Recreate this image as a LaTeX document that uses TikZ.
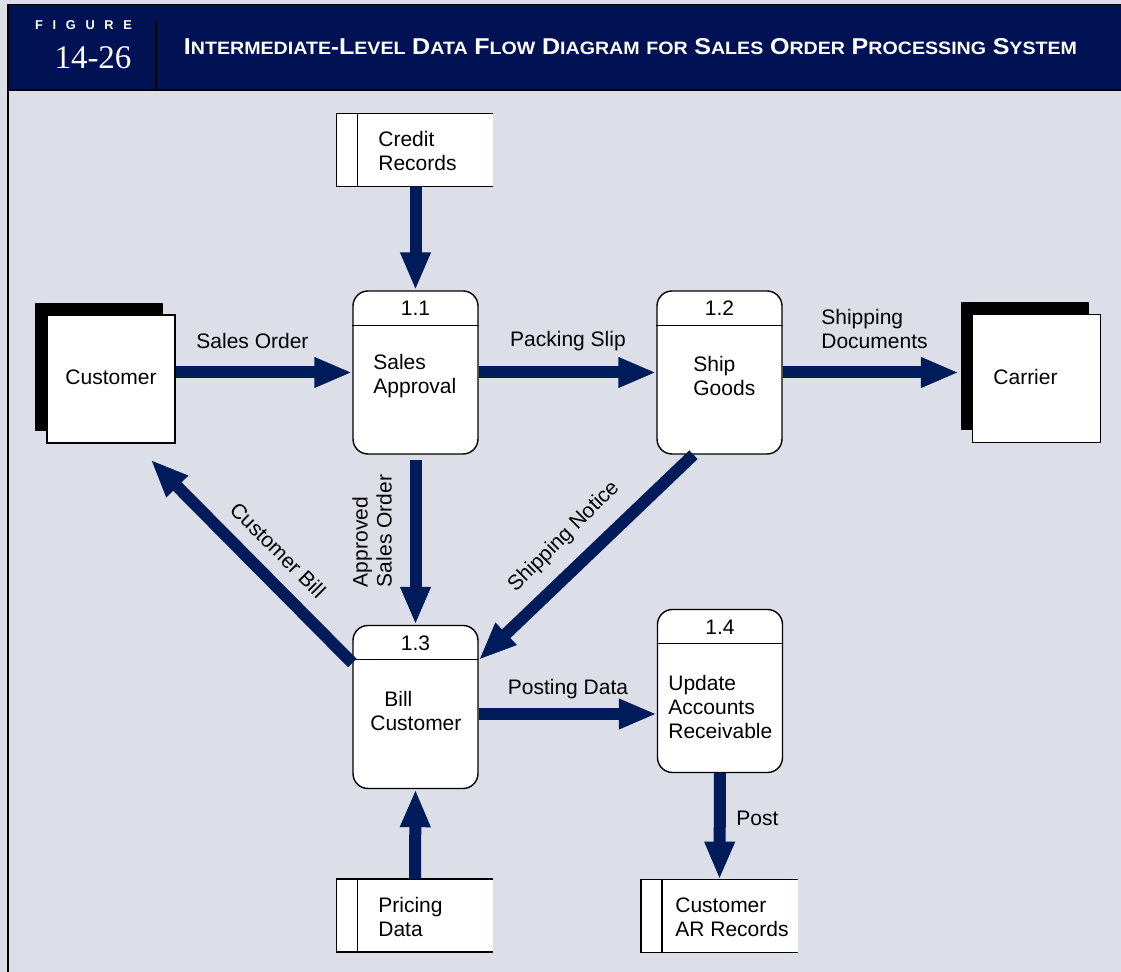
\documentclass[tikz,border=0pt]{standalone}
\usepackage{fontspec}
\setmainfont{Liberation Sans}
\newfontfamily\headserif{Liberation Serif}
\usetikzlibrary{arrows.meta,shadows}
\definecolor{navy}{RGB}{0,17,84}
\definecolor{flowblue}{RGB}{0,27,89}
\definecolor{paper}{RGB}{220,223,232}
% fake small caps for the title
\newcommand\capword[2]{{\fontsize{11}{11}\selectfont #1}{\fontsize{8.6}{11}\selectfont #2}}
\begin{document}
\begin{tikzpicture}[x=0.5pt,y=-0.5pt,font=\fontsize{10.5}{12}\selectfont,
	process/.style={draw,line width=0.7pt,fill=white,rounded corners=7.5pt,minimum width=62.5pt,minimum height=81.5pt,inner sep=0pt},
	entity/.style={draw,line width=0.6pt,fill=white,minimum width=64pt,minimum height=64pt,inner sep=0pt,
		general shadow={fill=black,shadow xshift=-6pt,shadow yshift=6pt}},
	store/.style={fill=white,minimum width=78pt,minimum height=36pt,inner sep=0pt},
	dataflow/.style={draw=flowblue,line width=6pt,-{Triangle[length=19pt,width=14pt]}},
	lbl/.style={inner sep=0pt,align=left}]
	\useasboundingbox (0,0) rectangle (1121,972);
	\fill[paper] (0,0) rectangle (1121,972);
	% header
	\fill[navy] (8,4) rectangle (1121,89);
	\draw[line width=0.8pt] (8,4.5) -- (1121,4.5);
	\draw[line width=1.3pt] (8,90) -- (1121,90);
	\draw[line width=1.3pt] (8,4) -- (8,972);
	\draw[line width=0.9pt] (156,21) -- (156,89);
	\node[text=white,inner sep=0pt,font=\bfseries\fontsize{6.4}{7}\selectfont] (figword) at (83.5,25.5)
		{\makebox[48.5pt]{F\hfill I\hfill G\hfill U\hfill R\hfill E}};
	\node[text=white,inner sep=0pt,font=\headserif\fontsize{16.5}{18}\selectfont] (fignum) at (93,58) {14-26};
	\node[text=white,inner sep=0pt] (title) at (630.5,47) {\resizebox{446.5pt}{8pt}{\bfseries
		\capword{I}{NTERMEDIATE}-\capword{L}{EVEL} \capword{D}{ATA} \capword{F}{LOW} \capword{D}{IAGRAM}
		\capword{}{FOR} \capword{S}{ALES} \capword{O}{RDER} \capword{P}{ROCESSING} \capword{S}{YSTEM}}};

	% external entities
	\node[entity] (cust) at (111,379) {\raisebox{1.5pt}{Customer}};
	\node[entity] (car) at (1036.5,378.5) {\raisebox{1.5pt}{Carrier}\kern11pt};

	% processes
	\node[process] (p11) at (415.5,372.5) {};
	\node[process] (p12) at (719.5,372.5) {};
	\node[process] (p13) at (415.5,707) {};
	\node[process] (p14) at (720,691) {};
	\foreach \p in {p11,p12,p13,p14}
		\draw[line width=0.7pt] ([yshift=-17.5pt]\p.north west) -- ([yshift=-17.5pt]\p.north east);
	\node[lbl] (n11) at ([yshift=-9pt]p11.north) {1.1};
	\node[lbl] (n12) at ([yshift=-9pt]p12.north) {1.2};
	\node[lbl] (n13) at ([yshift=-9pt]p13.north) {1.3};
	\node[lbl] (n14) at ([yshift=-9pt]p14.north) {1.4};
	\node[lbl,anchor=west] (t11) at (373,376) {Sales\\Approval};
	\node[lbl,anchor=west] (t12) at (693,376) {Ship\\Goods};
	\node[lbl,anchor=west] (t13) at (370,711) {\hspace{7pt}Bill\\Customer};
	\node[lbl,anchor=west] (t14) at (668,707) {Update\\Accounts\\Receivable};

	% data stores
	\node[store] (cr) at (415,150) {};
	\node[store] (pd) at (415,915.5) {};
	\node[store] (ar) at (719.5,916) {};
	\foreach \s in {cr,pd,ar} {
		\draw[line width=0.7pt] (\s.north east) -- (\s.north west) -- (\s.south west) -- (\s.south east);
		\draw[line width=0.7pt] ([xshift=10.5pt]\s.north west) -- ([xshift=10.5pt]\s.south west);
	}
	\node[lbl,anchor=west] (tcr) at (378,151) {Credit\\Records};
	\node[lbl,anchor=west] (tpd) at (378,917) {Pricing\\Data};
	\node[lbl,anchor=west] (tar) at (675,917) {Customer\\AR Records};

	% data flows
	\coordinate (carin) at ([xshift=-6.5pt]car.west);
	\coordinate (postout) at ([yshift=-3.5pt]p13.east);
	\draw[dataflow] (cr.south -| p11.north) -- (p11.north);
	\draw[dataflow] (cust.east |- p11.west) -- (p11.west);
	\draw[dataflow] (p11.east) -- (p12.west);
	\draw[dataflow] (p12.east) -- (p12.east -| carin);
	\draw[dataflow] ([yshift=-2.5pt]p11.south) -- (p13.north);
	\draw[dataflow] ([xshift=-13pt]p12.south) -- ([yshift=23.5pt]p13.east);
	\draw[dataflow] ([yshift=22pt]p13.west) -- ([xshift=-12.5pt,yshift=-8pt]cust.south east);
	\draw[dataflow] (postout) -- (postout -| p14.west);
	\draw[dataflow] (pd.north) -- (p13.south);
	\draw[dataflow] (p14.south) -- (ar.north);

	% flow labels
	\node[lbl] (lso) at (252.5,341) {Sales Order};
	\node[lbl] (lps) at (568,341) {Packing Slip};
	\node[lbl,anchor=west] (lsd) at (821,329) {Shipping\\Documents};
	\node[lbl] (lpd) at (568,689) {Posting Data};
	\node[lbl,anchor=west] (lpo) at (736,818) {Post};
	\node[lbl,rotate=90] (las) at (372,531) {Approved\\Sales Order};
	\node[lbl,rotate=45] (lsn) at (564,537) {Shipping Notice};
	\node[lbl,rotate=-45] (lcb) at (278,550) {Customer Bill};
\end{tikzpicture}
\end{document}
